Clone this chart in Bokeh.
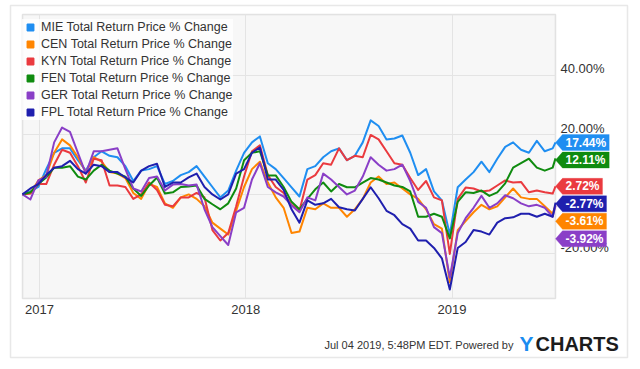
import pandas as pd
from bokeh.plotting import figure
from bokeh.models import (Range1d, FixedTicker, CustomJSTickFormatter, Legend, LegendItem,
                          Label, PolyAnnotation, BoxAnnotation)
from bokeh.embed import file_html
from bokeh.resources import INLINE

# ---------------- data ----------------
start_date = "2016-12-02"
end_date = "2019-07-03"
dates = list(pd.date_range(start_date, periods=68, freq="14D")) + [pd.Timestamp(end_date)]

mie = [0, 1.0, 2.5, 8.5, 14.0, 15.5, 15.5, 11.5, 8.0, 12.5,
       14.5, 13.0, 12.5, 9.5, 4.5, 8.0, 8.5, 9.5, 3.5, 4.5,
       6.5, 7.5, 9.5, 6.0, 2.5, -1.0, 1.3, 8.0, 14.0, 17.5,
       19.5, 10.5, 8.5, 5.5, 2.4, -0.7, 8.5, 9.5, 12.5, 14.5,
       15.5, 11.5, 13.0, 17.5, 24.9, 23.0, 18.5, 18.8, 19.8, 14.0,
       6.5, 8.5, 1.0, -2.0, -13.5, 2.4, 5.0, 7.5, 11.0, 7.5,
       12.0, 16.0, 17.5, 15.0, 14.0, 18.0, 14.5, 15.5, 17.44]
cen = [0, 0.5, 4.7, 6.4, 14.0, 18.5, 16.5, 12.5, 7.5, 12.5,
       11.0, 7.5, 7.0, 5.5, 0.5, -1.5, 3.5, 2.5, -3.0, -4.5,
       -1.0, 0, -1.5, -4.0, -9.5, -11.5, -13.5, -5.5, 2.5, 8.5,
       11.0, 4.0, -1.0, -4.5, -13.0, -12.5, -4.5, -5.0, -3.0, -4.5,
       -4.5, -7.5, -5.0, -1.5, 4.0, 6.0, 3.5, 4.0, 2.0, 0,
       -1.5, -5.0, -10.0, -11.5, -29.5, -12.0, -9.0, -6.0, -3.5, -5.0,
       -4.0, -1.0, 2.0, -1.0, -1.5, -1.5, -4.0, -6.5, -3.61]
kyn = [0, 0.3, 3.5, 3.5, 10.0, 15.0, 14.0, 9.5, 4.0, 12.0,
       11.5, 3.0, 3.0, 2.5, -1.5, 0, 4.0, 1.5, -3.5, -4.0,
       -1.0, -1.0, 0.5, -1.0, -12.0, -15.5, -13.0, -4.0, 6.0, 14.5,
       16.5, 6.5, 2.5, 0.5, -3.5, -5.5, 5.0, 6.5, 10.5, 10.0,
       15.5, 11.5, 13.0, 12.5, 20.0, 18.5, 14.5, 10.5, 10.0, 5.5,
       1.5, 4.5, -1.0, -2.0, -20.0, -1.5, 2.3, 2.0, 1.0, 1.3,
       3.0, 4.7, 4.0, 4.2, 0.7, 1.3, 0.7, 0.3, 2.72]
fen = [0, 0.7, 3.5, 5.7, 9.0, 9.0, 9.5, 6.0, 5.0, 8.0,
       10.0, 8.0, 7.0, 6.0, 2.0, -0.5, 3.0, 5.7, 0.3, 0.7,
       2.5, 2.7, 3.0, -1.5, -3.3, -5.0, -3.0, 2.0, 11.5, 14.0,
       14.5, 6.4, 6.4, 2.5, -2.5, -5.0, -1.5, 1.7, 4.0, 1.0,
       3.5, 2.4, 2.4, 4.0, 5.5, 5.0, 4.0, 3.0, 2.5, 1.0,
       -7.5, -7.5, -6.5, -7.5, -14.8, -2.5, 0.7, 0.5, 1.3, -0.5,
       0.7, 3.7, 9.0, 10.5, 12.0, 9.0, 8.0, 9.0, 12.11]
ger = [0, -1.7, 4.7, 6.0, 17.5, 22.5, 21.0, 14.0, 7.0, 14.5,
       14.5, 15.0, 15.5, 8.5, 2.0, 1.0, 5.5, 6.0, 1.3, 3.3,
       3.5, 3.0, 3.3, -5.0, -11.0, -14.0, -17.0, -6.0, -4.5, 5.0,
       10.5, 2.5, 0.7, -0.7, -3.7, -6.0, -1.0, -2.0, 7.0, 5.0,
       2.5, 0, 1.3, 6.0, 12.5, 10.0, 8.0, 8.5, 10.0, 4.5,
       -2.5, -4.5, -11.0, -13.0, -28.0, -13.0, -8.0, -4.5, -0.5, -4.5,
       -3.0, -0.3, -1.3, -3.0, -4.0, -3.5, -4.5, -7.5, -3.92]
fpl = [0, 2.0, 3.5, 6.5, 9.0, 9.5, 11.3, 8.5, 7.0, 10.0,
       9.5, 7.5, 7.5, 5.7, 4.0, 8.0, 9.5, 10.3, 2.5, 4.0,
       4.0, 5.7, 7.0, 2.5, 0, -1.7, 0, 7.0, 8.5, 14.0,
       15.8, 5.0, 5.0, 1.5, -5.0, -9.5, -2.0, -3.5, -3.0, -1.5,
       -4.3, -5.0, -5.4, -1.5, 2.4, -1.3, -5.5, -7.0, -10.0, -11.5,
       -15.5, -15.5, -18.0, -21.5, -32.0, -18.0, -16.0, -12.0, -12.5, -13.5,
       -9.5, -8.0, -7.7, -6.5, -6.5, -7.5, -6.5, -7.5, -2.77]

names = ["MIE", "CEN", "KYN", "FEN", "GER", "FPL"]
series = [mie, cen, kyn, fen, ger, fpl]
colors = ["#1f8ef1", "#ff8500", "#ea3a3f", "#0f8b0f", "#8a3fc7", "#1f1fae"]
year_ticks = ["2017-01-01", "2018-01-01", "2019-01-01"]
y_ticks = [-20, 0, 20, 40]
footer_text = "Jul 04 2019, 5:48PM EDT.  Powered by"

# ---------------- layout ----------------
W, H = 630, 360            # canvas == frame
PL, PT, PW, PH = 22, 14, 533, 284   # plot area on the canvas
Y0, Y1 = -35.0, 60.5
xs = pd.Timestamp(start_date).value / 1e6
xe = pd.Timestamp(end_date).value / 1e6
xpp = (xe - xs) / PW
dpp = (Y1 - Y0) / PH
x_start = xs - PL * xpp
y_end = Y1 + PT * dpp


def X(px):
    return x_start + px * xpp


def Y(py):
    return y_end - py * dpp


p = figure(frame_width=W, frame_height=H, x_axis_type="datetime",
           y_axis_location="right",
           x_range=Range1d(x_start, x_start + W * xpp),
           y_range=Range1d(y_end - H * dpp, y_end),
           toolbar_location=None, output_backend="svg", min_border=0)

p.background_fill_color = "white"
p.border_fill_color = "white"
p.outline_line_color = None

# plot area
p.add_layout(BoxAnnotation(left=xs, right=xe, bottom=Y0, top=Y1, fill_color="#f7f7f7",
                           fill_alpha=1.0, line_color="#aaaaaa", line_width=1.5, level="image"))

for vals, col in zip(series, colors):
    p.line(dates, vals, line_color=col, line_width=2, line_join="round")

# axes
off = 6.5 * dpp
yax = p.yaxis[0]
yax.fixed_location = xe
yax.ticker = FixedTicker(ticks=[t + off for t in y_ticks])
yax.formatter = CustomJSTickFormatter(args=dict(off=off),
    code="var v = Math.round((tick - off) * 100) / 100; return v.toFixed(2) + '%';")
yax.axis_line_color = None
yax.major_tick_line_color = None
yax.minor_tick_line_color = None
yax.major_tick_out = 0
yax.major_label_standoff = 5
yax.major_label_text_font = "Liberation Sans"
yax.major_label_text_font_size = "13px"
yax.major_label_text_color = "#333333"

xax = p.xaxis[0]
xax.fixed_location = Y0
xax.ticker = FixedTicker(ticks=[pd.Timestamp(t).value / 1e6 for t in year_ticks])
xax.formatter = CustomJSTickFormatter(code="return String(new Date(tick).getUTCFullYear());")
xax.axis_line_color = None
xax.major_tick_line_color = None
xax.minor_tick_line_color = None
xax.major_tick_out = 0
xax.major_label_standoff = 6
xax.major_label_text_font = "Liberation Sans"
xax.major_label_text_font_size = "13px"
xax.major_label_text_color = "#333333"

p.ygrid.ticker = FixedTicker(ticks=y_ticks)
p.xgrid.cross_bounds = (Y0, Y1)
p.ygrid.cross_bounds = (xs, xe)
p.xgrid.grid_line_color = "#e4e4e4"
p.ygrid.grid_line_color = "#e4e4e4"

# legend
items = []
for name, col in zip(names, colors):
    r = p.scatter(x=[xs], y=[float("nan")], marker="square", fill_color=col,
                  line_color=col, line_width=1.5)
    items.append(LegendItem(label=f"{name} Total Return Price % Change", renderers=[r]))
leg_h = 2 * 4 + 6 * 16 + 5 * 1
legend = Legend(items=items, location=(PL, H - PT - leg_h + 3), margin=0, padding=4, spacing=1,
                label_height=16, glyph_height=16, glyph_width=16, label_standoff=3,
                label_text_font="Liberation Sans", label_text_font_size="12.5px",
                label_text_color="#333333", background_fill_color="white",
                background_fill_alpha=0.75, border_line_color=None)
p.add_layout(legend)

# value tags on the right
cw = {".": 3.34, "%": 10.67, "-": 4.0}
finals = [s[-1] for s in series]
order = sorted(range(len(finals)), key=lambda i: -finals[i])
gap = 17.5 * dpp
tag_y = {}
prev = None
for i in order:
    yv = finals[i] if prev is None else min(finals[i], prev - gap)
    tag_y[i] = yv
    prev = yv
h = 8 * dpp
for i in range(len(finals)):
    txt = f"{finals[i]:.2f}%"
    tw = sum(cw.get(c, 6.67) for c in txt)
    yc = tag_y[i]
    right = 565 + tw + 3
    p.add_layout(PolyAnnotation(xs=[X(555), X(562), X(right), X(right), X(562)],
                                ys=[yc, yc + h, yc + h, yc - h, yc - h],
                                fill_color=colors[i], fill_alpha=1.0, line_color=colors[i],
                                line_width=1))
    p.add_layout(Label(x=X(565), y=yc, text=txt, text_color="white",
                       text_font="Liberation Sans", text_font_size="12px",
                       text_font_style="bold", text_baseline="middle", text_align="left"))

# outer border
p.add_layout(BoxAnnotation(left=X(10), right=X(627), top=Y(5), bottom=Y(357),
                           fill_alpha=0, line_color="#b4b4b4", line_width=1.5))

# footer
p.add_layout(Label(x=X(516), y=Y(344), text=footer_text, text_align="right",
                   text_baseline="middle", text_font="Liberation Sans",
                   text_font_size="11px", text_color="#333333"))
p.add_layout(Label(x=X(519), y=Y(343), text="Y", text_align="left", text_baseline="middle",
                   text_font="Liberation Sans", text_font_size="21px", text_font_style="bold",
                   text_color="#1a8cf0"))
p.add_layout(Label(x=X(535), y=Y(343), text="CHARTS", text_align="left", text_baseline="middle",
                   text_font="Liberation Sans", text_font_size="20px", text_font_style="bold",
                   text_color="#1c1c1c"))

open("out.html", "w").write(file_html(p, INLINE))
